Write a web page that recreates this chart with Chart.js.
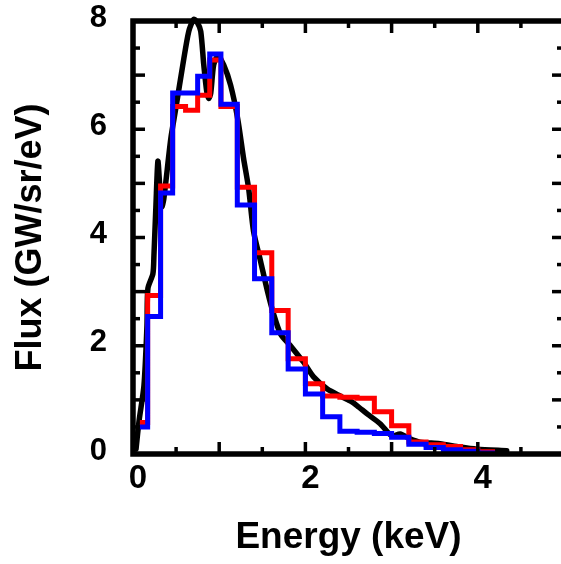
<!DOCTYPE html>
<html><head><meta charset="utf-8">
<script src="https://cdn.jsdelivr.net/npm/chart.js@4/dist/chart.umd.min.js"></script>
<style>
html,body{margin:0;padding:0;background:#fff;overflow:hidden;width:561px;height:564px}
#wrap{width:561px;height:564px;overflow:hidden;position:relative}
canvas{display:block}
</style></head>
<body><div id="wrap"><canvas id="c" width="575" height="564"></canvas></div>
<script>
// Histogram bin edges (keV)
const binEdges = [0.08, 0.17, 0.32, 0.46, 0.61, 0.75, 0.89, 1.02, 1.21, 1.41, 1.61, 1.80, 2.00, 2.20, 2.40, 2.60, 2.80, 3.00, 3.20, 3.40, 3.60, 3.80, 4.00, 4.20];
// Blue histogram (GW/sr/eV)
const blueFlux = [0.50, 2.54, 4.82, 6.67, 6.67, 6.98, 7.39, 6.46, 4.60, 3.24, 2.24, 1.57, 1.11, 0.69, 0.42, 0.40, 0.38, 0.31, 0.18, 0.12, 0.08, 0.05, 0.02];
// Red histogram (GW/sr/eV)
const redFlux = [0.58, 2.93, 4.95, 6.42, 6.35, 6.63, 7.28, 6.42, 4.93, 3.72, 2.65, 1.76, 1.30, 1.07, 1.05, 1.03, 0.78, 0.52, 0.22, 0.17, 0.14, 0.08, 0.04];
// Black model curve
const modelEnergy = [0.035, 0.07, 0.127, 0.162, 0.173, 0.231, 0.243, 0.266, 0.289, 0.312, 0.335, 0.358, 0.439, 0.497, 0.578, 0.647, 0.705, 0.75, 0.786, 0.821, 0.855, 0.879, 0.902, 0.936, 0.983, 1.052, 1.133, 1.214, 1.283, 1.341, 1.399, 1.48, 1.561, 1.63, 1.711, 1.827, 1.977, 2.092, 2.254, 2.405, 2.52, 2.601, 2.717, 2.867, 3.006, 3.098, 3.214, 3.329, 3.561, 3.792, 3.988, 4.335];
const modelFlux = [0.09, 0.61, 1.26, 2.37, 3.06, 3.33, 3.67, 4.59, 5.41, 4.91, 4.57, 4.72, 5.83, 6.39, 7.19, 7.81, 8.03, 7.96, 7.81, 7.19, 6.70, 6.57, 6.67, 7.19, 7.35, 7.19, 6.81, 6.20, 5.46, 4.91, 4.11, 3.56, 3.00, 2.59, 2.22, 2.00, 1.70, 1.43, 1.20, 1.07, 0.98, 0.89, 0.74, 0.56, 0.33, 0.37, 0.28, 0.22, 0.19, 0.13, 0.09, 0.06];
// Tick labels and tick marks
const xTickLabels = [0, 2, 4];
const yTickLabels = [0, 2, 4, 6, 8];
const xTickMarks = [0.5, 1, 1.5, 2, 2.5, 3, 3.5, 4, 4.5];
const yTickMarks = [0.5, 1, 1.5, 2, 2.5, 3, 3.5, 4, 4.5, 5, 5.5, 6, 6.5, 7, 7.5];

function stepPoints(edges, vals) {
  const pts = vals.map((v, i) => ({x: edges[i], y: v}));
  pts.push({x: edges[edges.length - 1], y: vals[vals.length - 1]});
  return pts;
}

const framePlugin = {
  id: 'frame',
  afterDatasetsDraw(chart) {
    const {ctx, chartArea: a, scales: {x, y}} = chart;
    ctx.save();
    ctx.strokeStyle = '#000';
    ctx.lineCap = 'butt';
    const seg = (x1, y1, x2, y2) => { ctx.beginPath(); ctx.moveTo(x1, y1); ctx.lineTo(x2, y2); ctx.stroke(); };
    ctx.lineWidth = 3.5;
    xTickMarks.forEach(v => {
      const px = x.getPixelForValue(v);
      const L = Number.isInteger(v) ? 12 : 7;
      seg(px, a.bottom, px, a.bottom - L);
      seg(px, a.top, px, a.top + L);
    });
    yTickMarks.forEach(v => {
      const py = y.getPixelForValue(v);
      const L = Number.isInteger(v) ? 12 : 7;
      seg(a.left, py, a.left + L, py);
      seg(a.right, py, a.right - L, py);
    });
    ctx.lineWidth = 5.5;
    ctx.strokeRect(a.left, a.top, a.right - a.left, a.bottom - a.top);
    ctx.restore();
  }
};

const FONT = 'Liberation Sans, Arial, sans-serif';
const zeroPad = s => { s.paddingTop = 0; s.paddingBottom = 0; s.paddingLeft = 0; s.paddingRight = 0; };

new Chart(document.getElementById('c'), {
  type: 'line',
  data: {
    datasets: [
      {data: stepPoints(binEdges, blueFlux), borderColor: '#0000ff', borderWidth: 5, stepped: 'before', pointRadius: 0, fill: false, clip: false},
      {data: stepPoints(binEdges, redFlux), borderColor: '#ff0000', borderWidth: 5, stepped: 'before', pointRadius: 0, fill: false, clip: false},
      {data: modelEnergy.map((e, i) => ({x: e, y: modelFlux[i]})), borderColor: '#000000', borderWidth: 5.5, tension: 0.25, pointRadius: 0, fill: false, clip: false, borderJoinStyle: 'round', borderCapStyle: 'round'}
    ]
  },
  options: {
    responsive: false,
    animation: false,
    events: [],
    layout: {padding: {top: 21, right: 11, left: 0, bottom: 0}, autoPadding: false},
    plugins: {legend: {display: false}, tooltip: {enabled: false}},
    scales: {
      x: {
        type: 'linear', min: 0, max: 5,
        afterBuildTicks: s => { s.ticks = xTickLabels.map(v => ({value: v})); },
        afterFit: s => { s.height = 110; zeroPad(s); },
        grid: {display: false, drawTicks: false},
        border: {display: false},
        ticks: {font: {family: FONT, weight: 'bold', size: 33}, color: '#000', padding: 5, labelOffset: 5, maxRotation: 0, autoSkip: false},
        title: {display: true, text: 'Energy (keV)', color: '#000', font: {family: FONT, weight: 'bold', size: 37}, padding: {top: 0, bottom: 4}}
      },
      y: {
        type: 'linear', min: 0, max: 8,
        afterBuildTicks: s => { s.ticks = yTickLabels.map(v => ({value: v})); },
        afterFit: s => { s.width = 133; zeroPad(s); },
        grid: {display: false, drawTicks: false},
        border: {display: false},
        ticks: {font: {family: FONT, weight: 'bold', size: 31}, color: '#000', padding: 26, labelOffset: -3, autoSkip: false},
        title: {display: true, text: 'Flux (GW/sr/eV)', color: '#000', font: {family: FONT, weight: 'bold', size: 36}, padding: {top: 9, bottom: 0}}
      }
    }
  },
  plugins: [framePlugin]
});
</script>
</body></html>
